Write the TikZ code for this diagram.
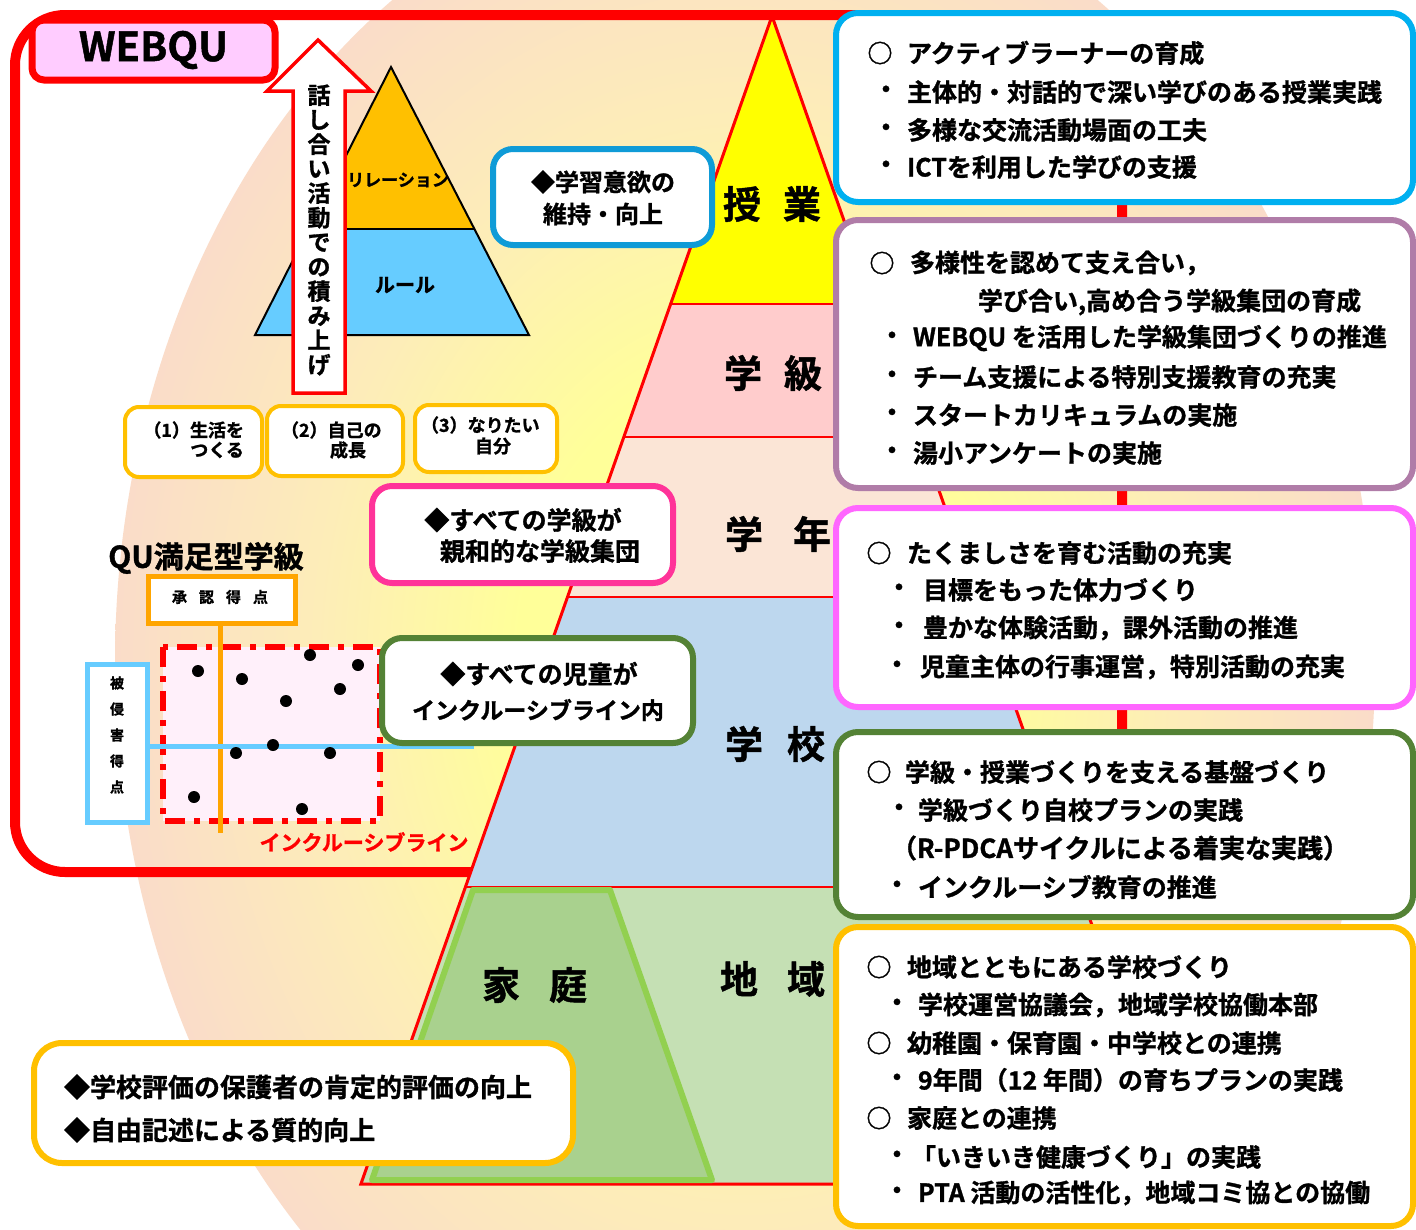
\documentclass[tikz,border=0pt]{standalone}
\usepackage{fontspec}
\setmainfont{Noto Sans CJK JP}[BoldFont={* Bold},BoldFeatures={FakeBold=1.2}]
\definecolor{cY}{HTML}{FFFF99}
\definecolor{cM}{HTML}{FDEDB8}
\definecolor{cP}{HTML}{FADCC9}
\definecolor{bandY}{HTML}{FFFF00}
\definecolor{bandPk}{HTML}{FFCCCC}
\definecolor{bandPe}{HTML}{FBE5D6}
\definecolor{bandB}{HTML}{BDD7EE}
\definecolor{bandG}{HTML}{C5E0B4}
\definecolor{homeG}{HTML}{A9D18E}
\definecolor{homeE}{HTML}{92D050}
\definecolor{pyrO}{HTML}{FFC000}
\definecolor{pyrB}{HTML}{66CCFF}
\definecolor{wpink}{HTML}{FFCCFF}
\definecolor{bBlue}{HTML}{00B0F0}
\definecolor{bBlueB}{HTML}{0F9BD7}
\definecolor{bPurp}{HTML}{B07CA8}
\definecolor{bMag}{HTML}{FF66FF}
\definecolor{bGreen}{HTML}{548235}
\definecolor{bOrg}{HTML}{FFC000}
\definecolor{bPink}{HTML}{FF3399}
\definecolor{qOrg}{HTML}{FFA500}
\definecolor{qBlue}{HTML}{66CCFF}
\definecolor{qFill}{HTML}{FFF0FA}
\pgfdeclareradialshading{bgsh}{\pgfpoint{0bp}{0bp}}{color(0bp)=(cY); color(9bp)=(cY); color(17bp)=(cM); color(25bp)=(cP); color(50bp)=(cP)}
\begin{document}
\begin{tikzpicture}[x=1pt,y=-1pt,
 every node/.style={inner sep=0pt,outer sep=0pt},
 jp/.style={font=\bfseries\fontsize{#1}{#1}\selectfont},
 lt/.style={anchor=west,jp=25},
 mk/.style={anchor=center,jp=25},
 rbox/.style={draw,fill=white,rounded corners=22,line width=6,minimum width=577},
 lbox/.style={draw,fill=white,rounded corners=20,line width=6},
 obox/.style={draw=bOrg,fill=white,rounded corners=14,line width=4},
 big/.style={jp=38},
 dot/.style={circle,fill=black,minimum size=12},
 sep/.style={draw=red,line width=2}
]
\useasboundingbox (0,0) rectangle (1416,1229);
\clip (0,0) rectangle (1416,1229);
\fill[white] (0,0) rectangle (1416,1229);
\shade[shading=bgsh] (745,663) ellipse [x radius=630,y radius=800];

% WEBQU frame
\draw[red,line width=10,rounded corners=50] (15,15) rectangle (1122,872);
\node[draw=red,fill=wpink,line width=7,rounded corners=12,minimum width=243,minimum height=60,jp=40] (webqu) at (153.5,50) {WEBQU};

% small pyramid
\fill[pyrO] (391,67) -- (309,229) -- (474,229) -- cycle;
\fill[pyrB] (309,229) -- (474,229) -- (529,335) -- (255,335) -- cycle;
\draw[black,line width=2] (391,67) -- (529,335) -- (255,335) -- cycle;
\draw[black,line width=2] (309,229) -- (474,229);
\node[jp=17] (rel) at (398,180) {リレーション};
\node[jp=20] (rule) at (405,285) {ルール};

% arrow
\draw[red,line width=3.5,fill=white,line join=miter] (318,40) -- (371,91) -- (345,91) -- (345,393) -- (293,393) -- (293,91) -- (267,91) -- cycle;
\node[font=\bfseries\fontsize{23}{24.5}\selectfont,align=center] (arrtxt) at (319,230) {話\\し\\合\\い\\活\\動\\で\\の\\積\\み\\上\\げ};

% orange boxes
\node[obox,minimum width=137,minimum height=70] (ob1) at (193.5,442) {};
\node[obox,minimum width=136,minimum height=70] (ob2) at (335,441) {};
\node[obox,minimum width=142,minimum height=67] (ob3) at (486,438.5) {};
\node[jp=18,anchor=east] (ob1a) at (244,430) {（1）生活を};
\node[jp=18,anchor=east] (ob1b) at (244,450) {つくる};
\node[jp=18,anchor=west] (ob2a) at (281,430) {（2）自己の};
\node[jp=18,anchor=west] (ob2b) at (330,450) {成長};
\node[jp=18,anchor=west] (ob3a) at (421,425) {（3）なりたい};
\node[jp=18] (ob3b) at (493,446) {自分};

% QU chart
\node[jp=30] (qut) at (206,558) {QU満足型学級};
\node[draw=qOrg,fill=white,line width=5,minimum width=147,minimum height=47] (shonin) at (221.5,599.5) {};
\node[jp=15] (shonint) at (220,597) {承\hspace{12pt}認\hspace{12pt}得\hspace{12pt}点};
\draw[red,line width=6,dash pattern=on 20pt off 9pt on 6pt off 9pt,fill=qFill] (163,647) rectangle (380,821);
\coordinate (ol) at (220,833);
\draw[qOrg,line width=5] (shonin.south -| ol) -- (ol);
\node[draw=qBlue,fill=white,line width=5,minimum width=60,minimum height=158] (hishin) at (117,743) {};
\node[font=\bfseries\fontsize{14}{26}\selectfont,align=center] (hishint) at (117,735) {被\\侵\\害\\得\\点};
\coordinate (bl) at (474,746);
\draw[qBlue,line width=5] (hishin.east |- bl) -- (bl);
\node[dot] (d1) at (198,671) {};
\node[dot] (d2) at (242,679) {};
\node[dot] (d3) at (310,655) {};
\node[dot] (d4) at (358,665) {};
\node[dot] (d5) at (340,689) {};
\node[dot] (d6) at (286,701) {};
\node[dot] (d7) at (236,753) {};
\node[dot] (d8) at (273,745) {};
\node[dot] (d9) at (330,753) {};
\node[dot] (d10) at (194,797) {};
\node[dot] (d11) at (302,809) {};
\node[jp=21,text=red] (incl) at (364,842) {インクルーシブライン};

% big pyramid
\fill[bandY] (772,16) -- (670.6,304) -- (873.4,304) -- cycle;
\fill[bandPk] (670.6,304) -- (873.4,304) -- (920.2,437) -- (623.8,437) -- cycle;
\fill[bandPe] (623.8,437) -- (920.2,437) -- (976.5,597) -- (567.5,597) -- cycle;
\fill[bandB] (567.5,597) -- (976.5,597) -- (1078.6,887) -- (465.4,887) -- cycle;
\fill[bandG] (465.4,887) -- (1078.6,887) -- (1183.1,1184) -- (360.9,1184) -- cycle;
\draw[sep] (670.6,304) -- (873.4,304);
\draw[sep] (623.8,437) -- (920.2,437);
\draw[sep] (567.5,597) -- (976.5,597);
\draw[sep] (465.4,887) -- (1078.6,887);
\draw[red,line width=3] (772,16) -- (1183.1,1184) -- (360.9,1184) -- cycle;
\draw[homeE,fill=homeG,line width=6,line join=round] (473,890) -- (610,890) -- (712,1180) -- (372,1180) -- cycle;
\node[big] (l1) at (772,204) {授\hspace{22pt}業};
\node[big] (l2) at (773,373) {学\hspace{22pt}級};
\node[big] (l3) at (778,534) {学\hspace{30pt}年};
\node[big] (l4) at (775,744) {学\hspace{24pt}校};
\node[big] (l5) at (772.5,979) {地\hspace{29pt}域};
\node[big] (l6) at (534.5,985) {家\hspace{29pt}庭};

% left boxes
\node[lbox,draw=bBlueB,minimum width=219,minimum height=96] (qa) at (602.5,197) {};
\node[jp=24] (qa1) at (603,182) {◆学習意欲の};
\node[jp=24] (qa2) at (603,214) {維持・向上};
\node[lbox,draw=bPink,minimum width=301,minimum height=97] (pk) at (522.5,534.5) {};
\node[jp=25] (pk1) at (523,520) {◆すべての学級が};
\node[jp=25] (pk2) at (540,551) {親和的な学級集団};
\node[lbox,draw=bGreen,minimum width=311,minimum height=105] (gr) at (537.5,690.5) {};
\node[jp=25] (gr1) at (539,674) {◆すべての児童が};
\node[jp=23] (gr2) at (538,710) {インクルーシブライン内};
\node[lbox,draw=bOrg,rounded corners=28,minimum width=539,minimum height=120] (yb) at (303.5,1103) {};
\node[anchor=west,jp=26] (yb1) at (64,1087) {◆学校評価の保護者の肯定的評価の向上};
\node[anchor=west,jp=26] (yb2) at (64,1130) {◆自由記述による質的向上};

% right boxes
\node[rbox,draw=bBlue,minimum height=189] (b1) at (1124.5,107.5) {};
\node[mk] (b1m1) at (880,53) {○};
\node[lt] (b1t1) at (907,53) {アクティブラーナーの育成};
\node[mk] (b1m2) at (886,92) {・};
\node[lt] (b1t2) at (907,92) {主体的・対話的で深い学びのある授業実践};
\node[mk] (b1m3) at (886,130) {・};
\node[lt] (b1t3) at (907,130) {多様な交流活動場面の工夫};
\node[mk] (b1m4) at (886,167) {・};
\node[lt] (b1t4) at (907,167) {ICTを利用した学びの支援};

\node[rbox,draw=bPurp,minimum height=268] (b2) at (1124.5,354) {};
\node[mk] (b2m1) at (882,263) {○};
\node[lt] (b2t1) at (910,263) {多様性を認めて支え合い，};
\node[lt] (b2t2) at (978,302) {学び合い,高め合う学級集団の育成};
\node[mk] (b2m3) at (892,338) {・};
\node[lt] (b2t3) at (913,338) {WEBQU を活用した学級集団づくりの推進};
\node[mk] (b2m4) at (892,377) {・};
\node[lt] (b2t4) at (913,377) {チーム支援による特別支援教育の充実};
\node[mk] (b2m5) at (892,415) {・};
\node[lt] (b2t5) at (913,415) {スタートカリキュラムの実施};
\node[mk] (b2m6) at (892,453) {・};
\node[lt] (b2t6) at (913,453) {湯小アンケートの実施};

\node[rbox,draw=bMag,minimum height=199] (b3) at (1124.5,607.5) {};
\node[mk] (b3m1) at (879,553) {○};
\node[lt] (b3t1) at (907,553) {たくましさを育む活動の充実};
\node[mk] (b3m2) at (899,590) {・};
\node[lt] (b3t2) at (923,590) {目標をもった体力づくり};
\node[mk] (b3m3) at (899,628) {・};
\node[lt] (b3t3) at (923,628) {豊かな体験活動，課外活動の推進};
\node[mk] (b3m4) at (897,667) {・};
\node[lt] (b3t4) at (920,667) {児童主体の行事運営，特別活動の充実};

\node[rbox,draw=bGreen,minimum height=185] (b4) at (1124.5,824.5) {};
\node[mk] (b4m1) at (879,772) {○};
\node[lt] (b4t1) at (905,772) {学級・授業づくりを支える基盤づくり};
\node[mk] (b4m2) at (899,810) {・};
\node[lt] (b4t2) at (918,810) {学級づくり自校プランの実践};
\node[lt,jp=26] (b4t3) at (891,848) {（R-PDCAサイクルによる着実な実践）};
\node[mk] (b4m4) at (897,887) {・};
\node[lt] (b4t4) at (918,887) {インクルーシブ教育の推進};

\node[rbox,draw=bOrg,minimum height=299] (b5) at (1124.5,1076.5) {};
\node[mk] (b5m1) at (879,967) {○};
\node[lt] (b5t1) at (907,967) {地域とともにある学校づくり};
\node[mk] (b5m2) at (897,1005) {・};
\node[lt] (b5t2) at (918,1005) {学校運営協議会，地域学校協働本部};
\node[mk] (b5m3) at (879,1043) {○};
\node[lt] (b5t3) at (907,1043) {幼稚園・保育園・中学校との連携};
\node[mk] (b5m4) at (897,1080) {・};
\node[lt] (b5t4) at (918,1080) {9年間（12 年間）の育ちプランの実践};
\node[mk] (b5m5) at (879,1118) {○};
\node[lt] (b5t5) at (907,1118) {家庭との連携};
\node[mk] (b5m6) at (897,1157) {・};
\node[lt] (b5t6) at (911,1157) {「いきいき健康づくり」の実践};
\node[mk] (b5m7) at (897,1193) {・};
\node[lt] (b5t7) at (918,1193) {PTA 活動の活性化，地域コミ協との協働};
\end{tikzpicture}
\end{document}
